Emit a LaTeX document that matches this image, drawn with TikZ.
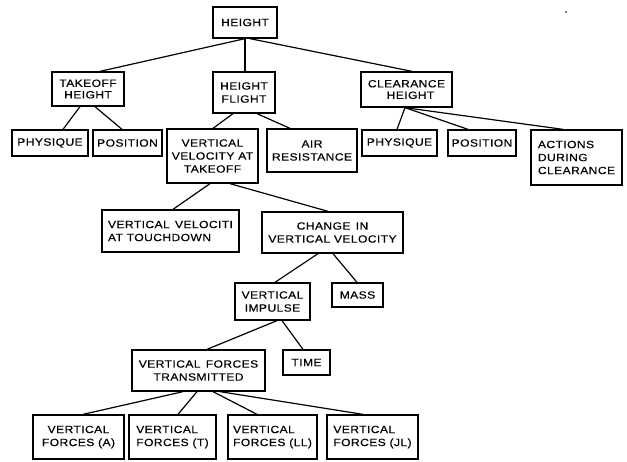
\documentclass[tikz,border=0pt]{standalone}
\usepackage{fontspec}
\setmainfont{Liberation Sans}[LetterSpace=4,FakeStretch=1.15,FakeBold=0.3]
\usetikzlibrary{calc}
\begin{document}
\begin{tikzpicture}[x=1pt,y=-1pt,
  box/.style={draw, line width=1.3pt, inner sep=0pt, align=center,
    font=\fontsize{10.5}{13}\selectfont},
  lbox/.style={box, align=left},
  tight/.style={font=\fontsize{10.5}{11.5}\selectfont},
  link/.style={line width=1.2pt}]
\useasboundingbox (0,0) rectangle (627,462);
\node[box, minimum width=64, minimum height=31] (hgt) at (245,22.5) {HEIGHT};
\node[box, tight, minimum width=72, minimum height=34] (tko) at (88,89) {TAKEOFF\\HEIGHT};
\node[box, minimum width=62, minimum height=41] (hfl) at (244,92.5) {HEIGHT\\FLIGHT};
\node[box, tight, minimum width=91, minimum height=35] (clr) at (406.5,89.5) {CLEARANCE\\\hspace*{8pt}HEIGHT};
\node[box, minimum width=76, minimum height=26] (phy1) at (50,143) {PHYSIQUE};
\node[box, minimum width=69, minimum height=26] (pos1) at (127.5,143) {POSITION};
\node[box, minimum width=91, minimum height=54] (vvat) at (212.5,156) {VERTICAL\\VELOCITY AT\\TAKEOFF};
\node[box, minimum width=90, minimum height=43] (air) at (312,150.5) {AIR\\RESISTANCE};
\node[box, minimum width=75, minimum height=26] (phy2) at (399.5,143) {PHYSIQUE};
\node[box, minimum width=68, minimum height=26] (pos2) at (482,143) {POSITION};
\node[lbox, minimum width=91, minimum height=55] (act) at (576.5,157.5) {ACTIONS\\DURING\\CLEARANCE};
\node[lbox, minimum width=137, minimum height=42] (vvt) at (170.5,231) {VERTICAL\enspace VELOCITI\\AT TOUCHDOWN};
\node[box, minimum width=141, minimum height=41] (chg) at (332.5,232.5) {CHANGE\enspace IN\\VERTICAL VELOCITY};
\node[box, minimum width=75, minimum height=37] (vi) at (272.5,301.5) {VERTICAL\\IMPULSE};
\node[box, minimum width=51, minimum height=24] (mass) at (357.5,295) {MASS};
\node[box, minimum width=133, minimum height=41] (vft) at (198.5,370.5) {VERTICAL\enspace FORCES\\TRANSMITTED};
\node[box, minimum width=47, minimum height=25] (time) at (306.5,362.5) {TIME};
\node[box, minimum width=91, minimum height=44] (fa) at (78.5,437) {VERTICAL\\FORCES (A)};
\node[lbox, minimum width=87, minimum height=44] (ft) at (172.5,437) {VERTICAL\\FORCES (T)};
\node[lbox, minimum width=89, minimum height=44] (fll) at (272.5,437) {VERTICAL\\FORCES (LL)};
\node[lbox, minimum width=91, minimum height=44] (fjl) at (372.5,437) {VERTICAL\\FORCES (JL)};
\fill (566,12) circle (0.8);
% connectors
\draw[link] (hgt.south) -- ($(tko.north)+(12,0)$);
\draw[link] (hgt.south) -- (hgt.south |- hfl.north);
\draw[link] ($(hgt.south)+(5,0)$) -- ($(clr.north)+(5.5,0)$);
\draw[link] ($(tko.south)+(-8,0)$) -- ($(phy1.north)+(13,0)$);
\draw[link] ($(tko.south)+(7,0)$) -- ($(pos1.north)+(-5.5,0)$);
\draw[link] ($(hfl.south)+(-11,0)$) -- ($(vvat.north)+(0.5,0)$);
\draw[link] ($(hfl.south)+(13,0)$) -- ($(air.north)+(-22,0)$);
\draw[link] ($(clr.south)+(-1.5,0)$) -- ($(phy2.north)+(-2.5,0)$);
\draw[link] ($(clr.south)+(-1.5,0)$) -- ($(pos2.north)+(-14,0)$);
\draw[link] ($(clr.south)+(-1.5,0)$) -- ($(act.north)+(-13.5,0)$);
\draw[link] ($(vvat.south)+(-2.5,0)$) -- ($(vvt.north)+(2.5,0)$);
\draw[link] ($(vvat.south)+(17.5,0)$) -- ($(chg.north)+(-4.5,0)$);
\draw[link] ($(chg.south)+(-14.5,0)$) -- ($(vi.north)+(2.5,0)$);
\draw[link] ($(chg.south)+(0.5,0)$) -- ($(mass.north)+(-0.5,0)$);
\draw[link] ($(vi.south)+(4.5,0)$) -- ($(vft.north)+(8.5,0)$);
\draw[link] ($(vi.south)+(9.5,0)$) -- ($(time.north)+(-3.5,0)$);
\draw[link] ($(vft.south)+(-15.5,0)$) -- ($(fa.north)+(4.5,0)$);
\draw[link] ($(vft.south)+(-1.5,0)$) -- ($(ft.north)+(5.5,0)$);
\draw[link] ($(vft.south)+(14.5,0)$) -- ($(fll.north)+(-15.5,0)$);
\draw[link] ($(vft.south)+(21.5,0)$) -- ($(fjl.north)+(-9.5,0)$);
\end{tikzpicture}
\end{document}
